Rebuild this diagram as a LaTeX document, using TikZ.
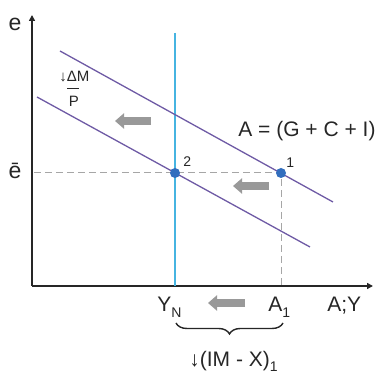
\documentclass[tikz,border=0pt]{standalone}
\usepackage{fontspec}
\setmainfont{Liberation Sans}
\usetikzlibrary{arrows.meta,decorations.pathreplacing}

\colorlet{axis line}{black!85}
\definecolor{curve line}{RGB}{110,90,165}
\definecolor{full line}{RGB}{70,180,225}
\definecolor{eq dot}{RGB}{50,110,190}
\colorlet{shift arrow}{black!40}
\colorlet{guide line}{black!35}
\tikzset{axis/.style={draw=axis line, line width=1.2pt, -{Triangle[length=3pt,width=3pt]}},
    curve/.style={draw=curve line, line width=0.65pt},
    full/.style={draw=full line, line width=1.1pt},
    guide/.style={draw=guide line, line width=0.5pt, dash pattern=on 3.5pt off 2pt},
    eqdot/.style={circle, fill=eq dot, inner sep=0pt, minimum size=5pt},
    shiftarrow/.style={draw=shift arrow, line width=3.6pt, -{Triangle[length=4.5pt,width=7.5pt]}},
    lbl/.style={inner sep=0pt, text=black!85, font=\fontsize{10.5}{12}\selectfont},
    small/.style={inner sep=0pt, text=black!85, font=\fontsize{7}{8}\selectfont}}
\newcommand{\lowsub}[2]{\raisebox{#1}{\fontsize{7}{8}\selectfont #2}}

\begin{document}
\begin{tikzpicture}[x=0.5pt, y=-0.5pt]
        \useasboundingbox (0,0) rectangle (376,373);
        % Axes
        \coordinate (o) at (32,286);
        \draw[axis] (o) -- (32,15) coordinate (ytop);
        \draw[axis] (o) -- (373,286) coordinate (xend);
        \node[lbl, font=\fontsize{11.5}{13}\selectfont] (elbl) at (15,24) {e};
        \node[lbl, font=\fontsize{11.5}{13}\selectfont] (ebar) at (15,171) {ē};

        % Full employment output
        \coordinate (ntop) at (175,33);
        \coordinate (nbot) at (175,286);
        \draw[full] (ntop) -- (nbot);

        % Aggregate demand curves
        \coordinate (a0) at (60,51);
        \coordinate (a1) at (333,202);
        \coordinate (b0) at (37,97);
        \coordinate (b1) at (310,247);
        \draw[curve] (a0) -- (a1);
        \draw[curve] (b0) -- (b1);

        % Equilibria 1 and 2
        \coordinate (q1) at (281,173);
        \coordinate (q2) at (175,173);
        \draw[guide] (34,173) coordinate (eaxis) -- (q1) -- (281,286) coordinate (aaxis);
        \node[eqdot] (p1) at (q1) {};
        \node[eqdot] (p2) at (q2) {};
        \node[small, anchor=base west] (n1) at (286,168) {1};
        \node[small, anchor=base west] (n2) at (183,167) {2};
        \node[lbl, anchor=base west] (agg) at (238,137) {A = (G + C + I)};

        % Money label
        \node[small, font=\fontsize{7.5}{9}\selectfont, anchor=base west] (dm) at (59,82) {↓ΔM};
        \node[small, font=\fontsize{7.5}{9}\selectfont, anchor=base] (pp) at (74,107) {P};
        \draw[line width=0.5pt, black!85] (67,89) -- (79,89);

        % Shifts to the left
        \draw[shiftarrow] (151,121) coordinate (s1) -- (115,121) coordinate (t1);
        \draw[shiftarrow] (269,186) coordinate (s2) -- (233,186) coordinate (t2);
        \draw[shiftarrow] (245,303) coordinate (s3) -- (208,303) coordinate (t3);

        % Axis labels
        \node[lbl, anchor=base west] (yn) at (157,312) {Y\lowsub{-3pt}{N}};
        \node[lbl, anchor=base west] (a1lbl) at (268,312) {A\lowsub{-3pt}{1}};
        \node[lbl, anchor=base west] (aylbl) at (327,312) {A;Y};

        % Trade balance gap
        \coordinate (gl) at (176,323);
        \coordinate (gr) at (283,323);
        \draw[axis line, line width=0.7pt, decorate, decoration={brace, amplitude=5.5pt, mirror}] (gl) -- (gr);
        \node[lbl, anchor=base west] (imx) at (189,367) {↓(IM - X)\lowsub{-2.5pt}{1}};
\end{tikzpicture}
\end{document}
